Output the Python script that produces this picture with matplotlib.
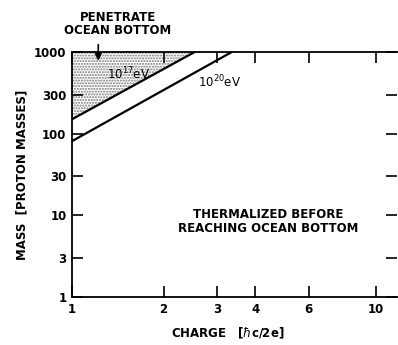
import numpy as np
import matplotlib.pyplot as plt

# charge in units of hbar*c/2e, mass in proton masses
charge_17 = [1.0, 2.53]
mass_17 = [150, 1000]
charge_20 = [1.0, 3.35]
mass_20 = [81, 1000]

x_ticks = [1, 2, 3, 4, 6, 10]
y_ticks = [1, 3, 10, 30, 100, 300, 1000]

fig = plt.figure(figsize=(3.98, 3.45), dpi=100)
ax = fig.add_axes([72 / 398, 48 / 345, 325 / 398, 245 / 345])

ax.set_xscale('log')
ax.set_yscale('log')
ax.set_xlim(1, 11.7)
ax.set_ylim(1, 1000)

# stippled region above the 10^17 eV line
xs = np.array(charge_17)
ax.fill_between(xs, mass_17, 1000, facecolor='white', edgecolor='#777777',
                hatch='......', linewidth=0)
ax.plot(charge_17, mass_17, color='black', lw=1.6)
ax.plot(charge_20, mass_20, color='black', lw=1.6)

ax.set_xticks(x_ticks)
ax.set_xticklabels([str(t) for t in x_ticks])
ax.set_yticks(y_ticks)
ax.set_yticklabels([str(t) for t in y_ticks])
ax.minorticks_off()
ax.tick_params(direction='in', length=8, width=1.2, top=True, right=True,
               labelsize=8.5, pad=4)
for lab in ax.get_xticklabels() + ax.get_yticklabels():
    lab.set_fontweight('bold')

ax.spines['right'].set_visible(False)
for s in ['left', 'bottom', 'top']:
    ax.spines[s].set_linewidth(1.3)

ax.set_ylabel('MASS  [PROTON MASSES]', fontsize=8.5, fontweight='bold', labelpad=4)
ax.set_xlabel(r'CHARGE   [$\hbar$c/2e]', fontsize=8.5, fontweight='bold')
ax.xaxis.set_label_coords(0.48, -0.15)
ax.xaxis.label.set_va('center')

fig.text(118 / 398, 1 - 24 / 345, 'PENETRATE\nOCEAN BOTTOM', ha='center', va='center',
         fontsize=8.5, fontweight='bold', linespacing=1.0)
ax.annotate('', xy=(1.22, 720), xycoords='data',
            xytext=(1.22, 1330), textcoords='data',
            arrowprops=dict(arrowstyle='-|>', color='black', lw=1.2))
ax.text(1.3, 540, r'10$^{17}$eV', fontsize=8.5, ha='left', va='center')
ax.text(2.6, 430, r'10$^{20}$eV', fontsize=8.5, ha='left', va='center')
ax.text(4.4, 8.5, 'THERMALIZED BEFORE\nREACHING OCEAN BOTTOM', ha='center',
        va='center', fontsize=8.5, fontweight='bold', linespacing=1.1)

plt.savefig('out.png', dpi=100)
